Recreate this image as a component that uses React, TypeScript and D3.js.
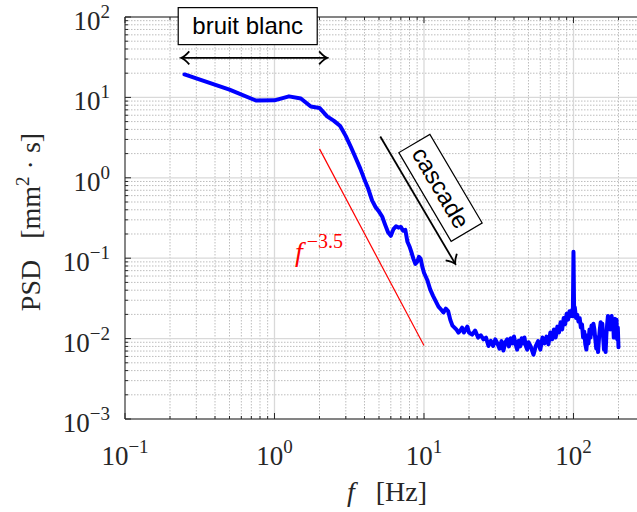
import * as d3 from "d3";

// spectrum (Hz, mm^2.s)
const freqHz = [
  0.25, 0.5, 0.75, 1, 1.25, 1.5, 1.75, 2, 2.25, 2.5, 2.75, 3, 3.25, 3.5, 3.75, 4, 4.25, 4.5, 4.75, 5,
  5.25, 5.5, 5.75, 6, 6.25, 6.5, 6.75, 7, 7.25, 7.5, 7.75, 8, 8.25, 8.5, 8.75, 9, 9.25, 9.5, 9.75, 10,
  10.5, 11, 11.5, 12, 12.5, 13, 13.5, 14, 14.5, 15, 15.5, 16, 16.5, 17, 17.5, 18, 18.5, 19, 19.5, 20,
  21, 22, 23, 24, 25, 26, 27, 28, 29, 30, 31, 32, 33, 34, 35, 36, 37, 38, 39, 40,
  41, 42, 43, 44, 45, 46, 47, 48, 49, 50,
  52, 54, 56, 58, 60, 62, 64, 66, 68, 70, 72, 74, 76, 78, 80, 82, 84, 86, 88, 90, 92, 94, 96, 98,
  99, 100, 101,
  102, 104, 106, 108, 110, 112, 114, 116, 118, 120, 122, 124, 126, 128, 130, 132, 134, 136, 138, 140,
  142, 144, 146, 148, 150, 152, 154, 156, 158, 160, 162, 164, 166, 168, 170, 172, 174, 176, 178, 180,
  182, 184, 186, 188, 190, 192, 194, 196, 198, 200,
];

const psd = [
  19.3, 12.5, 9.15, 9.2, 10.3, 9.7, 7.7, 7.4, 5.8, 5.1, 4.4, 3.3, 2.4, 1.75, 1.3, 0.95, 0.72, 0.52, 0.43, 0.38,
  0.33, 0.26, 0.21, 0.19, 0.23, 0.25, 0.24, 0.245, 0.22, 0.225, 0.16, 0.14, 0.118, 0.098, 0.085, 0.09, 0.104, 0.098, 0.078, 0.066,
  0.054, 0.041, 0.034, 0.029, 0.025, 0.023, 0.0212, 0.0236, 0.022, 0.0171, 0.0145, 0.0137, 0.0129, 0.0119, 0.0126, 0.0137, 0.0119, 0.013, 0.0141, 0.0119,
  0.0112, 0.0126, 0.0103, 0.011, 0.0098, 0.0103, 0.0081, 0.0094, 0.0081, 0.0098, 0.0087, 0.0075, 0.0093, 0.0071, 0.009, 0.0098, 0.008, 0.0101, 0.0087, 0.0106,
  0.0085, 0.0073, 0.0094, 0.008, 0.0101, 0.0087, 0.0103, 0.0081, 0.0073, 0.009,
  0.0078, 0.0063, 0.0081, 0.0093, 0.0073, 0.0103, 0.0087, 0.0106, 0.0085, 0.0119, 0.0098, 0.013, 0.0103, 0.0141, 0.0119, 0.016, 0.013, 0.018, 0.0151, 0.0204, 0.0172, 0.0219, 0.019, 0.0229,
  0.019, 0.12, 0.021,
  0.0245, 0.018, 0.0197, 0.0163, 0.018, 0.0137, 0.015, 0.0103, 0.0122, 0.0085, 0.0073, 0.011, 0.0087, 0.013, 0.0103, 0.0145, 0.0116, 0.0153, 0.013, 0.0098,
  0.0075, 0.0103, 0.0068, 0.0098, 0.013, 0.016, 0.0122, 0.0153, 0.0103, 0.0073, 0.0087, 0.0068, 0.0112, 0.0151, 0.0191, 0.0163, 0.018, 0.013, 0.0172, 0.0191,
  0.013, 0.0172, 0.0103, 0.0151, 0.0176, 0.013, 0.0172, 0.0098, 0.0137, 0.0078,
];

const xDecades = [0.1, 1, 10, 100];
const xTickExp = ["\u22121", "0", "1", "2"];
const yDecades = [1e-3, 1e-2, 1e-1, 1, 10, 100];
const yTickExp = ["\u22123", "\u22122", "\u22121", "0", "1", "2"];

// f^-3.5 guide
const slopeF = [2, 10];
const slopeCoef = 25.9;
const slopeExp = -3.5;

// annotations, in data coordinates
const whiteNoiseF = [0.238, 2.25];
const whiteNoiseP = 31;
const whiteNoiseBox = [0.662, 77];
const cascadeFrom = [5.1, 3.26];
const cascadeTo = [16.2, 0.085];
const cascadeBox = [12.9, 0.75];
const slopeLabel = [1.37, 0.091];

const W = 637;
const H = 512;
const left = 125;
const top = 17;
const bottom = 419;

const NB = "\u00a0";

export default function App() {
  const x = d3.scaleLog().domain([0.1, 266]).range([left, W]);
  const y = d3.scaleLog().domain([1e-3, 1e2]).range([bottom, top]);

  const minorX: number[] = [];
  xDecades.forEach((d) => {
    for (let k = 2; k <= 9; k++) if (k * d <= 266) minorX.push(k * d);
  });
  const minorY: number[] = [];
  yDecades.slice(0, -1).forEach((d) => {
    for (let k = 2; k <= 9; k++) minorY.push(k * d);
  });

  const pts = freqHz.slice(0, psd.length).map((f, i) => [f, psd[i]] as [number, number]);
  const line = d3
    .line<[number, number]>()
    .x((d) => x(d[0]))
    .y((d) => y(d[1]));

  const slopePts = slopeF.map((f) => [f, slopeCoef * Math.pow(f, slopeExp)] as [number, number]);

  const axisColor = "#262626";
  const serif = "'Liberation Serif', 'DejaVu Serif', serif";
  const sans = "'Liberation Sans', Arial, sans-serif";

  const casX1 = x(cascadeFrom[0]);
  const casY1 = y(cascadeFrom[1]);
  const casX2 = x(cascadeTo[0]);
  const casY2 = y(cascadeTo[1]);
  const casAngle = (Math.atan2(casY2 - casY1, casX2 - casX1) * 180) / Math.PI;

  return (
    <svg
      width={W}
      height={H}
      style={{ position: "absolute", left: 0, top: 0, background: "#fff" }}
    >
      <defs>
        <clipPath id="plot">
          <rect x={left} y={top} width={W - left} height={bottom - top} />
        </clipPath>
        <marker
          id="arr"
          viewBox="-10 -8 12 16"
          markerWidth={12}
          markerHeight={16}
          refX={0}
          refY={0}
          markerUnits="userSpaceOnUse"
          orient="auto-start-reverse"
        >
          <path d="M -8 -6.5 Q -3 -1 0 0 Q -3 1 -8 6.5" fill="none" stroke="#000" strokeWidth={1.8} />
        </marker>
      </defs>

      {/* grid */}
      <g>
        {minorX.map((v) => (
          <line key={"mx" + v} x1={x(v)} x2={x(v)} y1={top} y2={bottom} stroke="#bdbdbd" strokeWidth={1} strokeDasharray="1.5,1.5" />
        ))}
        {minorY.map((v) => (
          <line key={"my" + v} x1={left} x2={W} y1={y(v)} y2={y(v)} stroke="#bdbdbd" strokeWidth={1} strokeDasharray="1.5,1.5" />
        ))}
        {xDecades.map((v) => (
          <line key={"gx" + v} x1={x(v)} x2={x(v)} y1={top} y2={bottom} stroke="#d9d9d9" strokeWidth={1.3} />
        ))}
        {yDecades.map((v) => (
          <line key={"gy" + v} x1={left} x2={W} y1={y(v)} y2={y(v)} stroke="#d9d9d9" strokeWidth={1.3} />
        ))}
      </g>

      {/* data */}
      <g clipPath="url(#plot)">
        <path d={line(slopePts) || ""} fill="none" stroke="#ff0000" strokeWidth={1.2} />
        <path
          d={line(pts) || ""}
          fill="none"
          stroke="#0000ff"
          strokeWidth={4}
          strokeLinejoin="round"
          strokeLinecap="round"
        />
      </g>

      {/* axes */}
      <g stroke={axisColor} strokeWidth={1}>
        <line x1={left} x2={W} y1={bottom} y2={bottom} />
        <line x1={left} x2={W} y1={top} y2={top} />
        <line x1={left} x2={left} y1={top} y2={bottom} />
        {xDecades.map((v) => (
          <g key={"tx" + v}>
            <line x1={x(v)} x2={x(v)} y1={bottom} y2={bottom - 6} />
            <line x1={x(v)} x2={x(v)} y1={top} y2={top + 6} />
          </g>
        ))}
        {minorX.map((v) => (
          <g key={"tmx" + v}>
            <line x1={x(v)} x2={x(v)} y1={bottom} y2={bottom - 3} />
            <line x1={x(v)} x2={x(v)} y1={top} y2={top + 3} />
          </g>
        ))}
        {yDecades.map((v) => (
          <line key={"ty" + v} x1={left} x2={left + 6} y1={y(v)} y2={y(v)} />
        ))}
        {minorY.map((v) => (
          <line key={"tmy" + v} x1={left} x2={left + 3} y1={y(v)} y2={y(v)} />
        ))}
      </g>

      {/* tick labels */}
      <g fill={axisColor} fontFamily={serif} fontSize={27}>
        {xDecades.map((v, i) => (
          <text key={"lx" + v} x={x(v)} y={bottom + 46} textAnchor="middle">
            10
            <tspan dy={-12} fontSize={19}>
              {xTickExp[i]}
            </tspan>
          </text>
        ))}
        {yDecades.map((v, i) => (
          <text key={"ly" + v} x={left - 15} y={y(v) + 13} textAnchor="end">
            10
            <tspan dy={-12} fontSize={19}>
              {yTickExp[i]}
            </tspan>
          </text>
        ))}
      </g>

      {/* axis labels */}
      <g fill={axisColor} fontFamily={serif} fontSize={28}>
        <text x={387} y={501} textAnchor="middle">
          <tspan fontStyle="italic">f</tspan>
          {`${NB}${NB}${NB}[Hz]`}
        </text>
        <text transform={`translate(40,${(top + bottom) / 2 + 4}) rotate(-90)`} textAnchor="middle">
          {`PSD${NB}${NB}${NB}[mm`}
          <tspan dy={-11} fontSize={19}>
            2
          </tspan>
          <tspan dy={11}>{`${NB}\u00b7${NB}s]`}</tspan>
        </text>
      </g>

      {/* f^-3.5 label */}
      <text x={x(slopeLabel[0])} y={y(slopeLabel[1])} fill="#ff0000" fontFamily={serif} fontSize={28}>
        <tspan fontStyle="italic">f</tspan>
        <tspan dy={-13} dx={4} fontSize={20}>
          {"\u22123.5"}
        </tspan>
      </text>

      {/* white noise annotation */}
      <line
        x1={x(whiteNoiseF[0])}
        x2={x(whiteNoiseF[1])}
        y1={y(whiteNoiseP)}
        y2={y(whiteNoiseP)}
        stroke="#000"
        strokeWidth={1.8}
        markerStart="url(#arr)"
        markerEnd="url(#arr)"
      />
      <g transform={`translate(${x(whiteNoiseBox[0])},${y(whiteNoiseBox[1])})`}>
        <rect x={-69.5} y={-18.5} width={139} height={37} fill="#fff" stroke="#000" strokeWidth={1.2} />
        <text x={0} y={8} textAnchor="middle" fontFamily={sans} fontSize={24} fill="#000">
          bruit blanc
        </text>
      </g>

      {/* cascade annotation */}
      <line x1={casX1} y1={casY1} x2={casX2} y2={casY2} stroke="#000" strokeWidth={1.8} markerEnd="url(#arr)" />
      <g transform={`translate(${x(cascadeBox[0])},${y(cascadeBox[1])}) rotate(${casAngle})`}>
        <rect x={-51.5} y={-18} width={103} height={36} fill="#fff" stroke="#000" strokeWidth={1.2} />
        <text x={0} y={8} textAnchor="middle" fontFamily={sans} fontSize={24} fill="#000">
          cascade
        </text>
      </g>
    </svg>
  );
}
